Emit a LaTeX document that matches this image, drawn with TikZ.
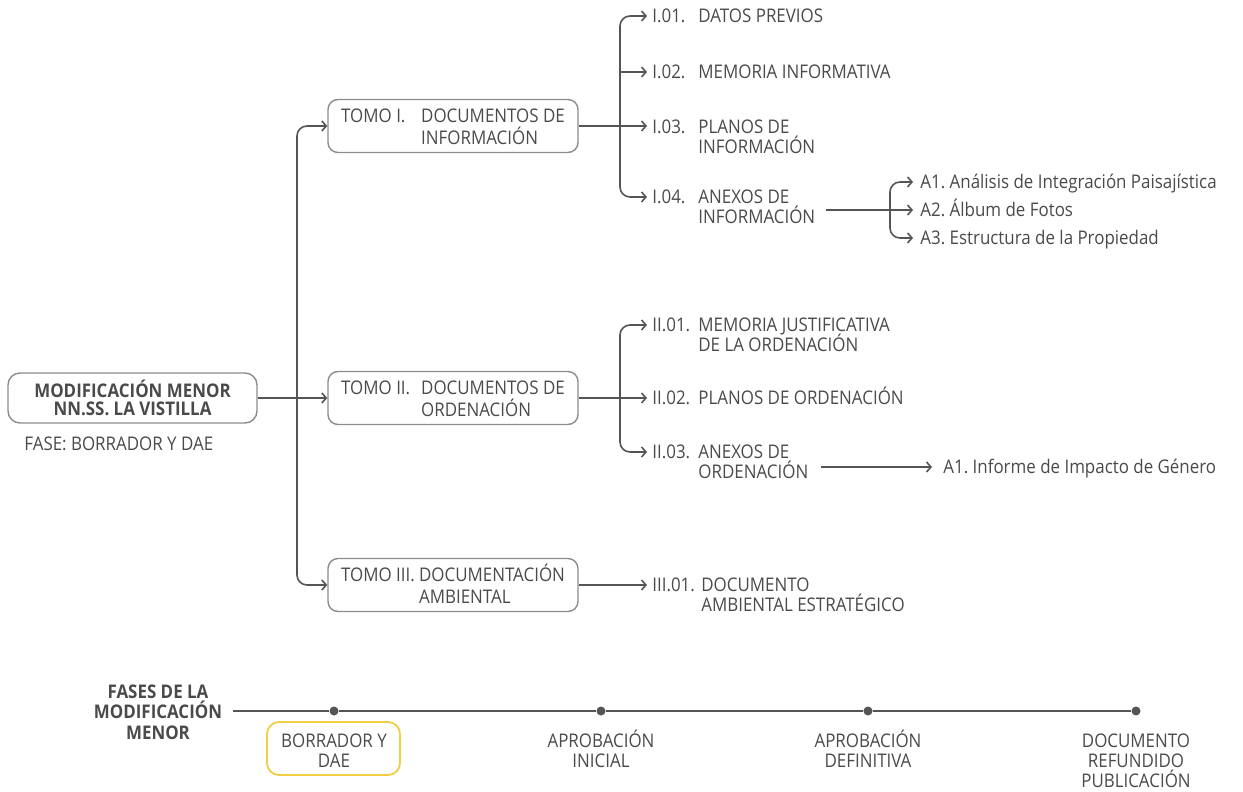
\documentclass[tikz,border=0pt]{standalone}
\usepackage{fontspec}
\setmainfont{Open Sans}[FakeStretch=0.9]
\usetikzlibrary{arrows.meta}
\definecolor{txt}{HTML}{4A4A4A}
\definecolor{lin}{HTML}{555555}
\definecolor{boxc}{HTML}{8C8C8C}
\definecolor{ylw}{HTML}{F0CF45}
\newcommand\sm[1]{\smash{#1}}
\newcommand\tomotext[3]{\renewcommand\arraystretch{1.07}\raisebox{1.6pt}[0pt][0pt]{\begin{tabular}[t]{@{}l@{}l@{}}\makebox[#1][l]{\sm{#2}}&#3\end{tabular}}}
\frenchspacing
\begin{document}
\begin{tikzpicture}[x=0.5pt,y=-0.5pt,
  font=\fontsize{9.4}{10}\selectfont, text=txt,
  conn/.style={draw=lin, line width=0.8pt},
  arr/.style={conn, -{Straight Barb[length=2.2pt,width=5pt]}},
  tomo/.style={draw=boxc, line width=0.7pt, rounded corners=5pt,
    minimum width=125pt, minimum height=26.5pt, inner sep=0pt},
  item/.style={anchor=base west, inner sep=0pt},
  lab/.style={anchor=base, inner sep=0pt},
  dot/.style={circle, fill=lin, draw=none, minimum size=4.5pt, inner sep=0pt},
]
\useasboundingbox (0,0) rectangle (1243,792);

% main node
\node[draw=boxc, line width=0.7pt, rounded corners=6pt, minimum width=124.5pt,
  minimum height=25pt, align=center, inner sep=0pt,
  font=\fontsize{9.4}{9.3}\selectfont\bfseries] (main) at (132.5,398)
  {MODIFICACIÓN MENOR\\NN.SS. LA VISTILLA};
\node[item, font=\fontsize{9.4}{10}\selectfont] (fase) at (24,450) {FASE: BORRADOR Y DAE};

% tomos
\node[tomo] (t1) at (453,126) {\tomotext{40pt}{TOMO I.}{\sm{DOCUMENTOS DE}\\&\sm{INFORMACIÓN}}};
\node[tomo] (t2) at (453,398) {\tomotext{40pt}{TOMO II.}{\sm{DOCUMENTOS DE}\\&\sm{ORDENACIÓN}}};
\node[tomo] (t3) at (453,585) {\tomotext{39pt}{TOMO III.}{\sm{DOCUMENTACIÓN}\\&\sm{AMBIENTAL}}};

\coordinate (j0) at (297,398);
\draw[conn] (main.east) -- (j0);
\draw[arr] (j0) -- (t2.west);
\draw[arr, rounded corners=5pt] (j0) |- (t1.west);
\draw[arr, rounded corners=5pt] (j0) |- (t3.west);

% branch I
\coordinate (j1) at (620,126);
\coordinate (e11) at (647,16);
\coordinate (e12) at (647,72);
\coordinate (e13) at (647,126);
\coordinate (e14) at (647,197);
\node[item] (i11) at (652,22.7) {\begin{tabular}[t]{@{}l@{}l@{}}\makebox[23pt][l]{\sm{I.01.}}&\sm{DATOS PREVIOS}\end{tabular}};
\node[item] (i12) at (652,78.7) {\begin{tabular}[t]{@{}l@{}l@{}}\makebox[23pt][l]{\sm{I.02.}}&\sm{MEMORIA INFORMATIVA}\end{tabular}};
\node[item] (i13) at (652,133.2) {\begin{tabular}[t]{@{}l@{}l@{}}\makebox[23pt][l]{\sm{I.03.}}&\sm{PLANOS DE}\\&\sm{INFORMACIÓN}\end{tabular}};
\node[item] (i14) at (652,203.7) {\begin{tabular}[t]{@{}l@{}l@{}}\makebox[23pt][l]{\sm{I.04.}}&\sm{ANEXOS DE}\\&\sm{INFORMACIÓN}\end{tabular}};
\draw[conn] (t1.east) -- (j1);
\draw[arr, rounded corners=5pt] (j1) |- (e11);
\draw[arr, rounded corners=5pt] (j1) |- (e14);
\draw[arr] (j1 |- e12) -- (e12);
\draw[arr] (j1) -- (e13);

% annexes of I.04
\coordinate (j2) at (890,210);
\coordinate (ea1) at (913,182);
\coordinate (ea2) at (913,210);
\coordinate (ea3) at (913,238);
\node[item] (a1) at (920,188.7) {A1. Análisis de Integración Paisajística};
\node[item] (a2) at (920,216.7) {A2. Álbum de Fotos};
\node[item] (a3) at (920,244.7) {A3. Estructura de la Propiedad};
\draw[conn, shorten <=5pt] (i14.east |- j2) -- (j2);
\draw[arr] (j2) -- (ea2);
\draw[arr, rounded corners=5pt] (j2) |- (ea1);
\draw[arr, rounded corners=5pt] (j2) |- (ea3);

% branch II
\coordinate (j3) at (620,398);
\coordinate (e21) at (647,325);
\coordinate (e22) at (647,398);
\coordinate (e23) at (647,452);
\node[item] (i21) at (652,331.7) {\begin{tabular}[t]{@{}l@{}l@{}}\makebox[23pt][l]{\sm{II.01.}}&\sm{MEMORIA JUSTIFICATIVA}\\&\sm{DE LA ORDENACIÓN}\end{tabular}};
\node[item] (i22) at (652,404.7) {\begin{tabular}[t]{@{}l@{}l@{}}\makebox[23pt][l]{\sm{II.02.}}&\sm{PLANOS DE ORDENACIÓN}\end{tabular}};
\node[item] (i23) at (652,458.7) {\begin{tabular}[t]{@{}l@{}l@{}}\makebox[23pt][l]{\sm{II.03.}}&\sm{ANEXOS DE}\\&\sm{ORDENACIÓN}\end{tabular}};
\draw[conn] (t2.east) -- (j3);
\draw[arr, rounded corners=5pt] (j3) |- (e21);
\draw[arr, rounded corners=5pt] (j3) |- (e23);
\draw[arr] (j3) -- (e22);

\coordinate (eb1) at (932,467);
\node[item] (b1) at (943,473.7) {A1. Informe de Impacto de Género};
\draw[arr, shorten <=6pt] (i23.east |- eb1) -- (eb1);

% branch III
\coordinate (e31) at (647,585);
\node[item] (i31) at (652,591.7) {\begin{tabular}[t]{@{}l@{}l@{}}\makebox[24.5pt][l]{\sm{III.01.}}&\sm{DOCUMENTO}\\&\sm{AMBIENTAL ESTRATÉGICO}\end{tabular}};
\draw[arr] (t3.east) -- (e31);

% timeline
\node[lab, font=\fontsize{9.4}{10.25}\selectfont\bfseries] (fases) at (158,698)
  {\begin{tabular}[t]{@{}c@{}}\sm{FASES DE LA}\\\sm{MODIFICACIÓN}\\\sm{MENOR}\end{tabular}};
\coordinate (t0) at (233,711);
\node[dot] (p1) at (334,711) {};
\node[dot] (p2) at (601,711) {};
\node[dot] (p3) at (868,711) {};
\node[dot] (p4) at (1136,711) {};
\draw[conn] (t0) -- (p1) -- (p2) -- (p3) -- (p4);

\draw[ylw, line width=0.9pt, rounded corners=6pt] (267,722) rectangle (400,775);
\node[lab] (l1) at (334,747.5) {\begin{tabular}[t]{@{}c@{}}\sm{BORRADOR Y}\\\sm{DAE}\end{tabular}};
\node[lab] (l2) at (601,747.5) {\begin{tabular}[t]{@{}c@{}}\sm{APROBACIÓN}\\\sm{INICIAL}\end{tabular}};
\node[lab] (l3) at (868,747.5) {\begin{tabular}[t]{@{}c@{}}\sm{APROBACIÓN}\\\sm{DEFINITIVA}\end{tabular}};
\node[lab] (l4) at (1136,747.5) {\begin{tabular}[t]{@{}c@{}}\sm{DOCUMENTO}\\\sm{REFUNDIDO}\\\sm{PUBLICACIÓN}\end{tabular}};
\end{tikzpicture}
\end{document}
